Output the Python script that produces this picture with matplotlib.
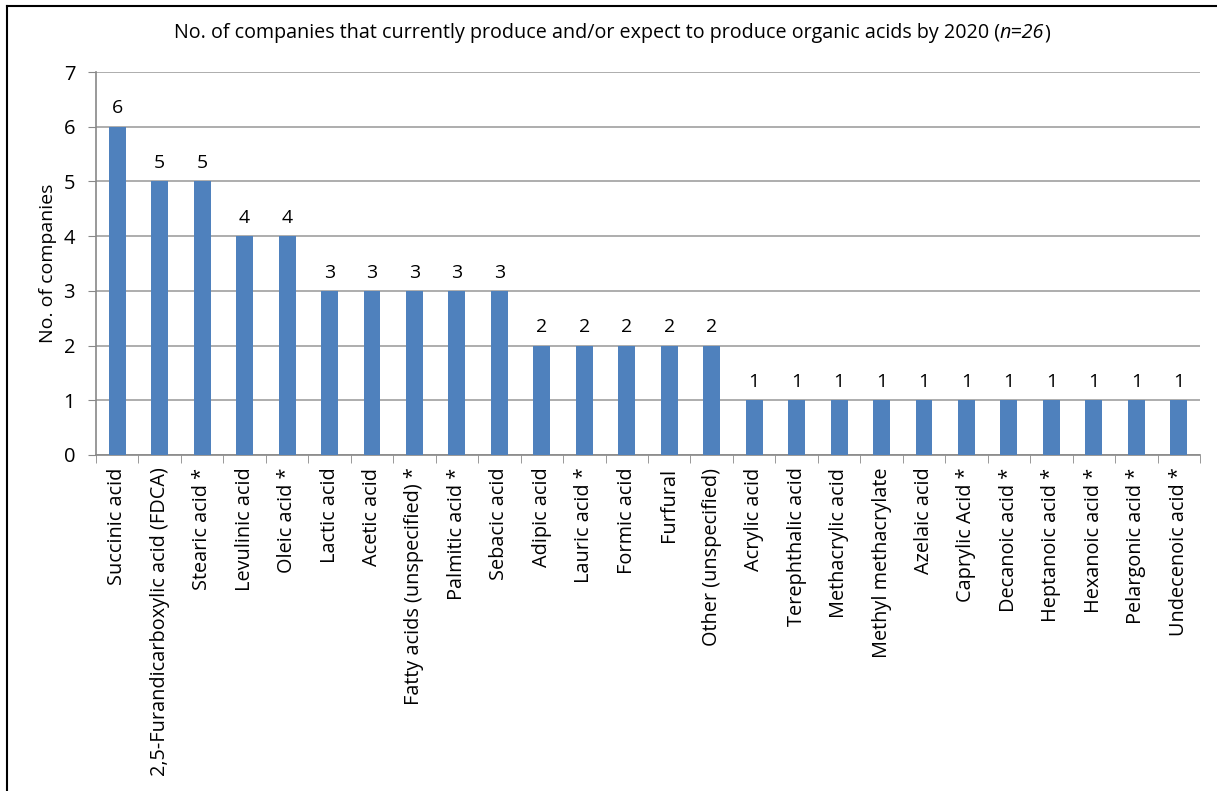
import matplotlib.pyplot as plt
from matplotlib.lines import Line2D
import numpy as np

acids = [
    "Succinic acid", "2,5-Furandicarboxylic acid (FDCA)", "Stearic acid *",
    "Levulinic acid", "Oleic acid *", "Lactic acid", "Acetic acid",
    "Fatty acids (unspecified) *", "Palmitic acid *", "Sebacic acid",
    "Adipic acid", "Lauric acid *", "Formic acid", "Furfural",
    "Other (unspecified)", "Acrylic acid", "Terephthalic acid",
    "Methacrylic acid", "Methyl methacrylate", "Azelaic acid",
    "Caprylic Acid *", "Decanoic acid *", "Heptanoic acid *",
    "Hexanoic acid *", "Pelargonic acid *", "Undecenoic acid *",
]
companies = [6, 5, 5, 4, 4, 3, 3, 3, 3, 3, 2, 2, 2, 2, 2,
             1, 1, 1, 1, 1, 1, 1, 1, 1, 1, 1]

plt.rcParams['font.family'] = ['Open Sans', 'DejaVu Sans']

fig = plt.figure(figsize=(12.17, 7.91), dpi=100)
ax = fig.add_axes([96 / 1217, 1 - 455 / 791, (1200 - 96) / 1217, (455 - 72) / 791])

x = np.arange(len(acids))
ax.bar(x, companies, width=0.4, color="#4F81BD", zorder=3)
for xi, v in zip(x, companies):
    ax.text(xi, v + 0.17, str(v), ha="center", va="bottom", fontsize=14)

ax.set_xlim(-0.5, len(acids) - 0.5)
ax.set_ylim(0, 7)
ax.set_yticks(range(8))
ax.yaxis.grid(True, color="#A0A0A0", linewidth=1.2, zorder=0)
ax.set_xticks(np.arange(len(acids) + 1) - 0.5, minor=True)
ax.set_xticks(x)
ax.set_xticklabels(acids, rotation=90, fontsize=14.3)
ax.tick_params(axis="x", which="major", length=0, pad=9)
ax.tick_params(axis="x", which="minor", length=6, color="#888888", direction="out")
ax.tick_params(axis="y", length=6, color="#888888", labelsize=14.5, pad=9)
for s in ["top", "right"]:
    ax.spines[s].set_visible(False)
for s in ["left", "bottom"]:
    ax.spines[s].set_color("#888888")
    ax.spines[s].set_linewidth(1.2)
ax.set_ylabel("No. of companies", fontsize=14, labelpad=5)

# title with italic n=26
title_parts = [
    ("No. of companies that currently produce and/or expect to produce organic acids by 2020 (", "normal"),
    ("n=26", "italic"),
    (")", "normal"),
]
fig.canvas.draw()
renderer = fig.canvas.get_renderer()
fs = 14.2
widths = []
for txt, style in title_parts:
    t = fig.text(0, 0, txt, fontsize=fs, style=style)
    widths.append(t.get_window_extent(renderer).width)
    t.remove()
x0 = 612 - sum(widths) / 2
ty = 791 - 33
for (txt, style), w in zip(title_parts, widths):
    fig.text(x0 / 1217, ty / 791, txt, fontsize=fs, style=style, ha="left", va="center")
    x0 += w

# outer frame (left and top only)
fig.add_artist(Line2D([7 / 1217, 7 / 1217], [0, 1 - 6 / 791], transform=fig.transFigure, color="black", lw=1.5))
fig.add_artist(Line2D([7 / 1217, 1], [1 - 6 / 791, 1 - 6 / 791], transform=fig.transFigure, color="black", lw=1.5))

fig.savefig("out.png", dpi=100)
